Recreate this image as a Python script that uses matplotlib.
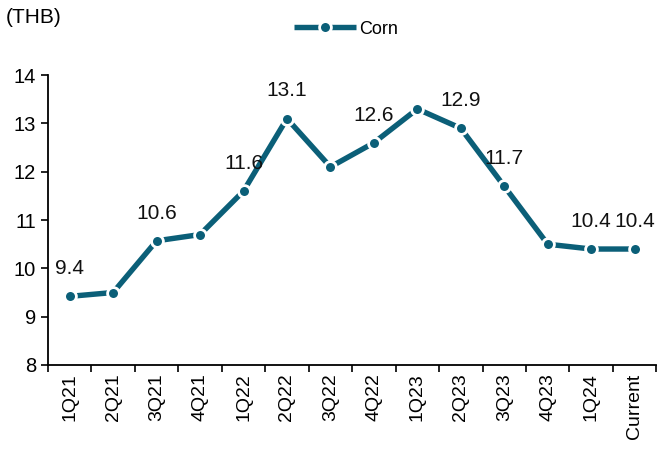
import matplotlib.pyplot as plt
from matplotlib.ticker import FixedLocator

plt.rcParams['font.family'] = ['Liberation Sans', 'DejaVu Sans']

quarters = ['1Q21', '2Q21', '3Q21', '4Q21', '1Q22', '2Q22', '3Q22',
            '4Q22', '1Q23', '2Q23', '3Q23', '4Q23', '1Q24', 'Current']
corn = [9.42, 9.5, 10.57, 10.7, 11.6, 13.1, 12.1,
        12.6, 13.3, 12.9, 11.7, 10.5, 10.4, 10.4]
# which points get a value label
labelled = [0, 2, 4, 5, 7, 9, 10, 12, 13]

color = '#0B5F78'

fig = plt.figure(figsize=(6.57, 4.5), dpi=100)
ax = fig.add_axes([0.073, 0.189, 0.926, 0.644])

x = list(range(len(quarters)))
line, = ax.plot(x, corn, color=color, linewidth=3.9, marker='o',
                markersize=8.5, markerfacecolor=color,
                markeredgecolor='white', markeredgewidth=2.0,
                solid_capstyle='butt', label='Corn', zorder=3)

for i in labelled:
    ax.annotate(f'{corn[i]:.1f}', (x[i], corn[i]), xytext=(0, 16),
                textcoords='offset points', ha='center', va='baseline',
                fontsize=15, color='#111111', zorder=4)

ax.set_xlim(-0.5, len(quarters) - 0.5)
ax.set_ylim(8, 14)
ax.set_yticks(range(8, 15))
ax.set_xticks(x)
ax.set_xticklabels(quarters, rotation=90, fontsize=14)
ax.xaxis.set_minor_locator(FixedLocator([i - 0.5 for i in range(len(quarters) + 1)]))
ax.tick_params(axis='x', which='major', length=0, pad=6)
ax.tick_params(axis='x', which='minor', length=5, width=1.2, direction='out')
ax.tick_params(axis='y', length=5, width=1.2, labelsize=14.5, direction='out')

for s in ['top', 'right']:
    ax.spines[s].set_visible(False)
for s in ['left', 'bottom']:
    ax.spines[s].set_linewidth(1.3)

fig.text(0.008, 0.962, '(THB)', fontsize=15, ha='left', va='center')
fig.legend(handles=[line], loc='center', bbox_to_anchor=(0.527, 0.935),
           frameon=False, fontsize=13, handlelength=3.4, handletextpad=0.2)

fig.savefig('out.png', dpi=100)
